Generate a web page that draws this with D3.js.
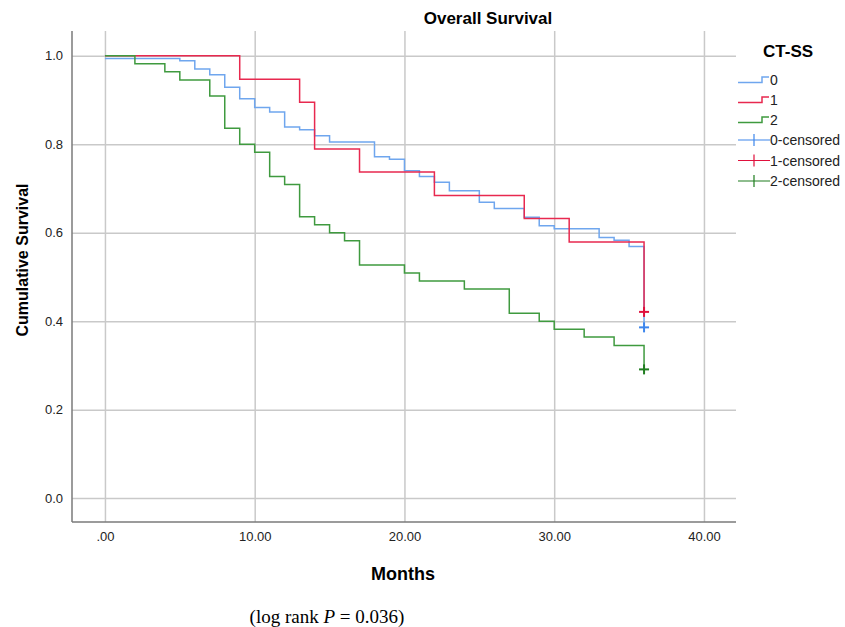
<!DOCTYPE html>
<html>
<head>
<meta charset="utf-8">
<script src="https://cdn.jsdelivr.net/npm/d3@7"></script>
<style>
  body { margin: 0; background: #fff; }
  svg { font-family: "Liberation Sans", Arial, sans-serif; }
</style>
</head>
<body>
<div id="chart"></div>
<script>
// Kaplan-Meier steps (months, cumulative survival)
let groups = ['0', '1', '2'];
let blueTimes = [0, 5, 6, 7, 8, 9, 10, 11, 12, 13, 14, 15, 18, 19, 20, 21, 22, 23, 25, 26, 28, 29, 30, 33, 34, 35, 36];
let blueSurv = [0.994, 0.989, 0.970, 0.957, 0.929, 0.903, 0.883, 0.873, 0.839, 0.833, 0.819, 0.805, 0.772, 0.766, 0.740, 0.727, 0.714, 0.695, 0.669, 0.655, 0.635, 0.616, 0.609, 0.589, 0.583, 0.569, 0.386];
let redTimes = [0, 9, 13, 14, 17, 22, 28, 31, 36];
let redSurv = [1.0, 0.947, 0.895, 0.789, 0.737, 0.684, 0.632, 0.579, 0.421];
let greenTimes = [0, 2, 4, 5, 7, 8, 9, 10, 11, 12, 13, 14, 15, 16, 17, 20, 21, 24, 27, 29, 30, 32, 34, 36];
let greenSurv = [1.0, 0.982, 0.964, 0.945, 0.909, 0.836, 0.800, 0.782, 0.727, 0.709, 0.636, 0.618, 0.600, 0.582, 0.527, 0.509, 0.491, 0.473, 0.418, 0.400, 0.382, 0.364, 0.345, 0.291];
// censored cases (all at the end of follow-up)
let censorTimes = [36, 36, 36];
let censorSurv = [0.386, 0.421, 0.291];

let xTicks = [0, 10, 20, 30, 40];
let xTickLabels = ['.00', '10.00', '20.00', '30.00', '40.00'];
let yTicks = [0, 0.2, 0.4, 0.6, 0.8, 1.0];
let yTickLabels = ['0.0', '0.2', '0.4', '0.6', '0.8', '1.0'];

let lineColors = ['#6fa6ee', '#e8294f', '#3f9a3f'];
let censorColors = ['#3d86ec', '#e0103c', '#1f7d1f'];

let margin = { top: 31, right: 109, bottom: 105, left: 72 };
let width = 845 - margin.left - margin.right;
let height = 627 - margin.top - margin.bottom;

let svg = d3.select('#chart')
    .append('svg')
    .attr('width', 845)
    .attr('height', 627)
    .append('g')
    .attr('transform', `translate(${margin.left}, ${margin.top})`);

// scales: plot frame is a bit wider than 0..40 and 0..1
let x = d3.scaleLinear().domain([-2.2, 42.14]).range([0, width]);
let y = d3.scaleLinear().domain([-0.054, 1.056]).range([height, 0]);

// grid + axes
let xAxis = svg.append('g')
    .attr('transform', `translate(0,${height})`)
    .call(d3.axisBottom(x)
        .tickValues(xTicks)
        .tickSize(-height)
        .tickPadding(10)
        .tickFormat((d, i) => xTickLabels[i]));

let yAxis = svg.append('g')
    .call(d3.axisLeft(y)
        .tickValues(yTicks)
        .tickSize(-width)
        .tickPadding(9)
        .tickFormat((d, i) => yTickLabels[i]));

[xAxis, yAxis].forEach(a => {
    a.attr('font-family', null).attr('font-size', null);
    a.selectAll('.tick line').attr('stroke', '#c9c9c9').attr('stroke-width', 1.5);
    a.selectAll('.tick text').style('font-size', '13px').attr('fill', '#222');
    a.select('.domain').remove();
});

// axis lines (left and bottom only)
svg.append('line')
    .attr('x1', 0).attr('x2', 0).attr('y1', 0).attr('y2', height)
    .attr('stroke', '#7a7a7a').attr('stroke-width', 1.5);
svg.append('line')
    .attr('x1', 0).attr('x2', width).attr('y1', height).attr('y2', height)
    .attr('stroke', '#7a7a7a').attr('stroke-width', 1.5);

// survival curves
let series = [
    blueTimes.map((t, i) => [t, blueSurv[i]]),
    redTimes.map((t, i) => [t, redSurv[i]]),
    greenTimes.map((t, i) => [t, greenSurv[i]])
];

let line = d3.line()
    .x(d => x(d[0]))
    .y(d => y(d[1]))
    .curve(d3.curveStepAfter);

svg.selectAll('.km')
    .data(series)
    .enter()
    .append('path')
    .attr('class', 'km')
    .attr('d', line)
    .attr('fill', 'none')
    .attr('stroke', (d, i) => lineColors[i])
    .attr('stroke-width', 1.5);

// censor marks
let cross = svg.selectAll('.censor')
    .data(censorTimes)
    .enter()
    .append('g')
    .attr('class', 'censor')
    .attr('transform', (d, i) => `translate(${x(d)},${y(censorSurv[i])})`);
cross.append('line')
    .attr('x1', -5).attr('x2', 5)
    .attr('stroke', (d, i) => censorColors[i]).attr('stroke-width', 2);
cross.append('line')
    .attr('y1', -5).attr('y2', 5)
    .attr('stroke', (d, i) => censorColors[i]).attr('stroke-width', 2);

// titles
svg.append('text')
    .text('Overall Survival')
    .attr('x', 488 - margin.left)
    .attr('y', -7)
    .attr('text-anchor', 'middle')
    .style('font-size', '17px')
    .style('font-weight', 'bold');

svg.append('text')
    .text('Cumulative Survival')
    .attr('transform', 'rotate(-90)')
    .attr('x', -(260 - margin.top))
    .attr('y', -44)
    .attr('text-anchor', 'middle')
    .style('font-size', '16px')
    .style('font-weight', 'bold');

svg.append('text')
    .text('Months')
    .attr('x', 403 - margin.left)
    .attr('y', 580 - margin.top)
    .attr('text-anchor', 'middle')
    .style('font-size', '18px')
    .style('font-weight', 'bold');

let note = svg.append('text')
    .attr('x', 327 - margin.left)
    .attr('y', 623 - margin.top)
    .attr('text-anchor', 'middle')
    .style('font-family', '"Liberation Serif", "Times New Roman", serif')
    .style('font-size', '19px');
note.append('tspan').text('(log rank ');
note.append('tspan').text('P').style('font-style', 'italic');
note.append('tspan').text(' = 0.036)');

// legend
let legend = svg.append('g')
    .attr('transform', `translate(${738 - margin.left},${0})`);

legend.append('text')
    .text('CT-SS')
    .attr('x', 25)
    .attr('y', 57 - margin.top)
    .style('font-size', '17px')
    .style('font-weight', 'bold');

let legendLabels = groups.concat(groups.map(g => g + '-censored'));
let legendRowY = [80, 100, 120, 140, 160.5, 181];

let item = legend.selectAll('.legend-item')
    .data(legendLabels)
    .enter()
    .append('g')
    .attr('class', 'legend-item')
    .attr('transform', (d, i) => `translate(0,${legendRowY[i] - margin.top})`);

item.filter((d, i) => i < 3)
    .append('path')
    .attr('d', 'M0,2.5H24V-3H31')
    .attr('fill', 'none')
    .attr('stroke', (d, i) => lineColors[i])
    .attr('stroke-width', 1.5);

item.filter((d, i) => i >= 3)
    .append('path')
    .attr('d', 'M0,0H32M16,-6V6')
    .attr('fill', 'none')
    .attr('stroke', (d, i) => censorColors[i])
    .attr('stroke-width', 1.2);

item.append('text')
    .text(d => d)
    .attr('x', 32)
    .attr('y', 5)
    .style('font-size', '14px')
    .attr('fill', '#222');
</script>
</body>
</html>
